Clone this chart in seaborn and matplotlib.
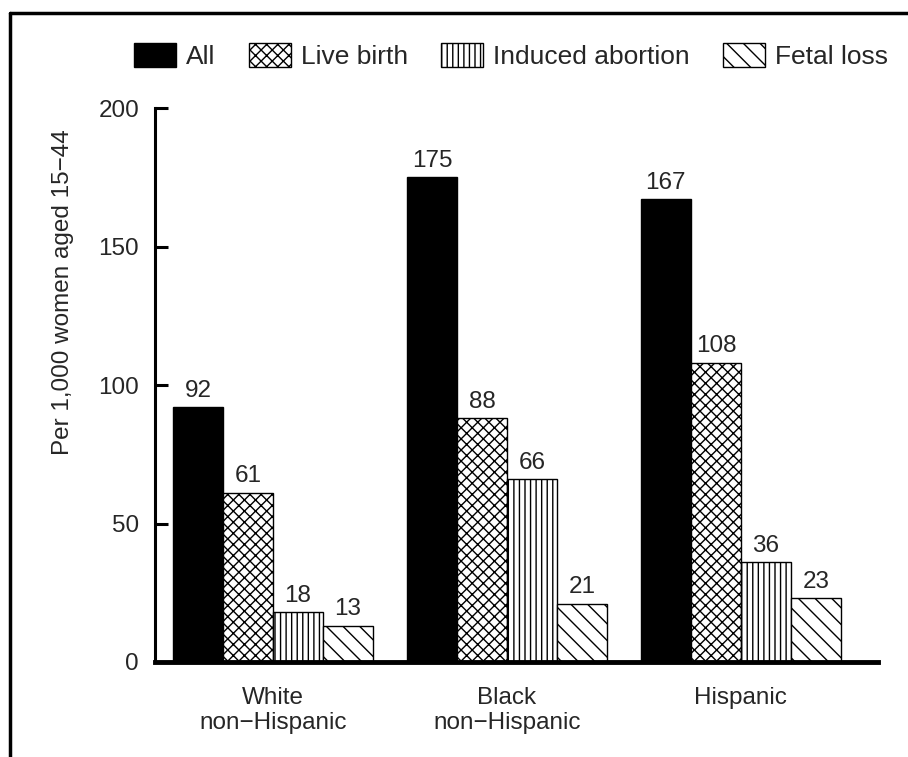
import pandas as pd
import matplotlib.pyplot as plt
import seaborn as sns
from matplotlib.lines import Line2D

# Dados do grafico
grupos = ['White\nnon\u2212Hispanic', 'Black\nnon\u2212Hispanic', 'Hispanic']
desfechos = ['All', 'Live birth', 'Induced abortion', 'Fetal loss']
valores_all = [92, 175, 167]
valores_live = [61, 88, 108]
valores_induced = [18, 66, 36]
valores_fetal = [13, 21, 23]

cores = ['black', 'white', 'white', 'white']
hachuras = ['', 'xxx', '|||', '\\\\']

df = pd.DataFrame({
    'grupo': grupos * 4,
    'desfecho': [d for d in desfechos for _ in grupos],
    'valor': valores_all + valores_live + valores_induced + valores_fetal,
})

sns.set_style('white')
plt.rcParams['font.family'] = ['Liberation Sans', 'DejaVu Sans']
plt.rcParams['hatch.linewidth'] = 1.0
fs = 17.5

fig = plt.figure(figsize=(9.08, 7.57), dpi=100)
ax = fig.add_axes([155 / 908, 1 - 662 / 757, 723 / 908, 554 / 757])

sns.barplot(data=df, x='grupo', y='valor', hue='desfecho', order=grupos,
            hue_order=desfechos, palette=cores, width=0.855, dodge=True,
            edgecolor='black', linewidth=1.0, legend=False, errorbar=None, ax=ax)

for cont, hat in zip(ax.containers, hachuras):
    for barra in cont.patches:
        barra.set_hatch(hat)
    ax.bar_label(cont, fmt='%d', padding=4, fontsize=fs)

ax.set_xlim(-0.504, 2.586)
ax.set_ylim(0, 200)
ax.set_yticks([0, 50, 100, 150, 200])
ax.set_xlabel('')
ax.set_ylabel('Per 1,000 women aged 15\u221244', fontsize=fs)
ax.yaxis.set_label_coords(-0.112, 0.668)

for lado in ['top', 'right']:
    ax.spines[lado].set_visible(False)
ax.spines['left'].set_linewidth(2.2)
ax.spines['bottom'].set_linewidth(3.5)
ax.spines['left'].set_color('black')
ax.spines['bottom'].set_color('black')

ax.tick_params(axis='y', direction='in', length=9, width=2.2, pad=11.5,
               labelsize=fs, left=True, color='black')
ax.tick_params(axis='x', length=0, pad=18, labelsize=fs)

handles = [c.patches[0] for c in ax.containers]
fig.legend(handles, desfechos, loc='center', bbox_to_anchor=(511 / 908, 1 - 56 / 757),
           ncol=4, frameon=False, fontsize=19, handlelength=1.6, handleheight=1.05,
           handletextpad=0.38, columnspacing=1.25, borderpad=0, borderaxespad=0)

# moldura parcial (topo e esquerda)
fig.add_artist(Line2D([10 / 908, 1], [1 - 13 / 757, 1 - 13 / 757], color='black', lw=2.5))
fig.add_artist(Line2D([10 / 908, 10 / 908], [0, 1 - 13 / 757], color='black', lw=2.5))

plt.savefig('out.png', dpi=100, facecolor='white')
plt.close()
